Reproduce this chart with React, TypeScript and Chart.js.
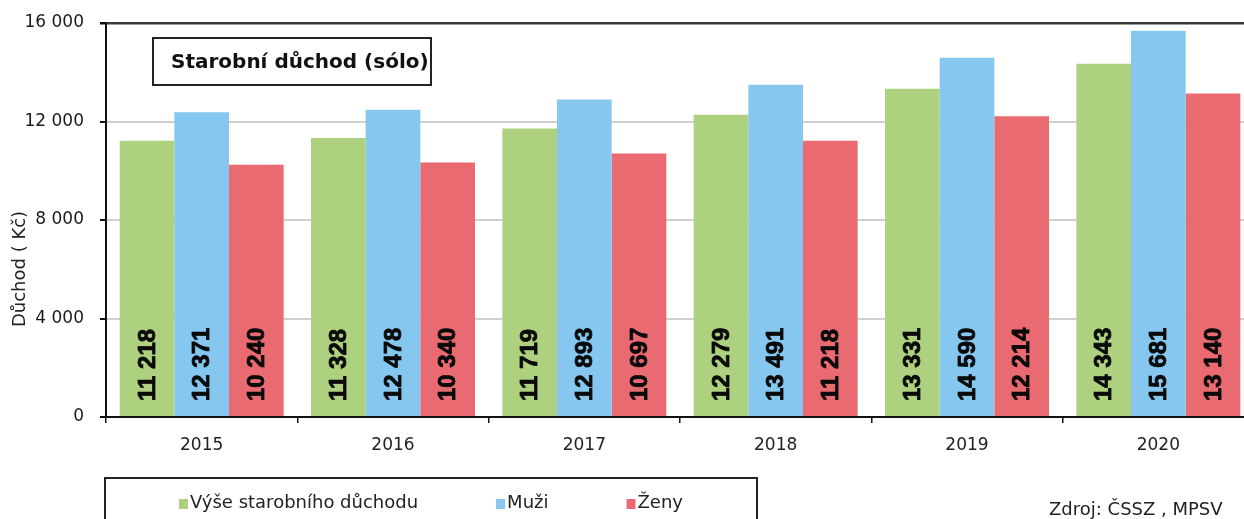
import React, { useEffect, useRef } from "react";
import { Chart, registerables } from "chart.js";

Chart.register(...registerables);

const categories = ["2015", "2016", "2017", "2018", "2019", "2020"];
const seriesNames = ["Výše starobního důchodu", "Muži", "Ženy"];
const totalValues = [11218, 11328, 11719, 12279, 13331, 14343];
const menValues = [12371, 12478, 12893, 13491, 14590, 15681];
const womenValues = [10240, 10340, 10697, 11218, 12214, 13140];
const seriesColors = ["#add17e", "#85c7ef", "#e96a70"];
const yTicks = [0, 4000, 8000, 12000, 16000];
const chartTitle = "Starobní důchod (sólo)";
const yTitle = "Důchod ( Kč)";
const sourceText = "Zdroj: ČSSZ , MPSV";

const fmt = (v: number) => {
  const s = String(Math.round(v));
  return s.replace(/\B(?=(\d{3})+(?!\d))/g, " ");
};

const FONT = "'DejaVu Sans', Verdana, sans-serif";

const overlayPlugin = {
  id: "overlay",
  afterDatasetsDraw(chart: any) {
    const ctx = chart.ctx as CanvasRenderingContext2D;
    ctx.save();
    ctx.fillStyle = "#0a0a0a";
    ctx.font = `bold 24px 'Liberation Sans', Arial, sans-serif`;
    ctx.textAlign = "left";
    ctx.textBaseline = "middle";
    ctx.strokeStyle = "#0a0a0a";
    ctx.lineWidth = 0.8;
    chart.data.datasets.forEach((ds: any, i: number) => {
      const meta = chart.getDatasetMeta(i);
      meta.data.forEach((bar: any, j: number) => {
        ctx.save();
        ctx.translate(bar.x + 1, bar.base - 15);
        ctx.rotate(-Math.PI / 2);
        ctx.fillText(fmt(ds.data[j]), 0, 0);
        ctx.strokeText(fmt(ds.data[j]), 0, 0);
        ctx.restore();
      });
    });
    ctx.restore();
  },
  afterDraw(chart: any) {
    const ctx = chart.ctx as CanvasRenderingContext2D;
    const area = chart.chartArea;
    ctx.save();
    // title box
    const bx = area.left + 47;
    const by = area.top + 15;
    const bw = 278;
    const bh = 47;
    ctx.fillStyle = "#fff";
    ctx.fillRect(bx, by, bw, bh);
    ctx.strokeStyle = "#222";
    ctx.lineWidth = 2;
    ctx.strokeRect(bx, by, bw, bh);
    ctx.fillStyle = "#111";
    ctx.font = `bold 20px ${FONT}`;
    ctx.textAlign = "left";
    ctx.textBaseline = "middle";
    ctx.fillText(chartTitle, bx + 18, by + bh / 2 + 1);

    // y axis title
    ctx.save();
    ctx.translate(20, 269);
    ctx.rotate(-Math.PI / 2);
    ctx.font = `18px ${FONT}`;
    ctx.textAlign = "center";
    ctx.textBaseline = "middle";
    ctx.fillStyle = "#222";
    ctx.fillText(yTitle, 0, 0);
    ctx.restore();

    // legend box
    const lx = area.left - 1;
    const ly = 478;
    const lw = 652;
    ctx.strokeStyle = "#222";
    ctx.lineWidth = 2;
    ctx.beginPath();
    ctx.moveTo(lx, 530);
    ctx.lineTo(lx, ly);
    ctx.lineTo(lx + lw, ly);
    ctx.lineTo(lx + lw, 530);
    ctx.stroke();
    ctx.font = `18px ${FONT}`;
    ctx.textBaseline = "middle";
    ctx.textAlign = "left";
    let x = lx + 74;
    const ty = 503;
    chart.data.datasets.forEach((ds: any) => {
      ctx.fillStyle = ds.backgroundColor;
      ctx.fillRect(x, ty - 4, 9, 10);
      ctx.fillStyle = "#222";
      ctx.fillText(ds.label, x + 11, ty);
      x += 11 + ctx.measureText(ds.label).width + 78;
    });

    // source
    ctx.font = `18px ${FONT}`;
    ctx.fillStyle = "#222";
    ctx.textAlign = "left";
    ctx.fillText(sourceText, 1049, 510);
    ctx.restore();
  },
};

export default function App() {
  const ref = useRef<HTMLCanvasElement | null>(null);
  useEffect(() => {
    if (!ref.current) return;
    const chart = new Chart(ref.current, {
      type: "bar",
      data: {
        labels: categories,
        datasets: [
          { label: seriesNames[0], data: totalValues, backgroundColor: seriesColors[0] },
          { label: seriesNames[1], data: menValues, backgroundColor: seriesColors[1] },
          { label: seriesNames[2], data: womenValues, backgroundColor: seriesColors[2] },
        ],
      },
      options: {
        responsive: false,
        animation: false,
        devicePixelRatio: 1,
        layout: { padding: { top: 23, right: 0, left: 0, bottom: 0 } },
        datasets: { bar: { categoryPercentage: 0.857, barPercentage: 1 } },
        plugins: {
          legend: { display: false },
          title: { display: false },
          tooltip: { enabled: false },
        },
        scales: {
          x: {
            grid: {
              display: true,
              drawOnChartArea: false,
              drawTicks: true,
              tickLength: 6,
              color: "#111",
              lineWidth: 1.5,
              offset: true,
            },
            border: { color: "#111", width: 2 },
            ticks: { color: "#222", font: { family: FONT, size: 17 }, padding: 12 },
            afterFit: (s: any) => {
              s.height = 102;
              s.paddingLeft = 0;
              s.paddingRight = 0;
            },
          },
          y: {
            min: 0,
            max: 16000,
            afterBuildTicks: (s: any) => {
              s.ticks = yTicks.map((v) => ({ value: v }));
            },
            grid: {
              color: (c: any) =>
                c.tick && c.tick.value === 16000 ? "#3a3a3a" : c.tick && c.tick.value === 0 ? "#111" : "#d0d0d0",
              lineWidth: (c: any) => (c.tick && c.tick.value === 16000 ? 2.5 : 2),
              tickColor: "#111",
              tickLength: 6,
              drawTicks: true,
            },
            border: { color: "#111", width: 2 },
            ticks: {
              color: "#1a1a1a",
              font: { family: FONT, size: 17 },
              padding: 16,
              callback: (v: any) => fmt(Number(v)),
            },
            afterFit: (s: any) => {
              s.width = 106;
              s.paddingTop = 0;
              s.paddingBottom = 0;
            },
          },
        },
      },
      plugins: [overlayPlugin],
    });
    return () => chart.destroy();
  }, []);
  return (
    <div style={{ position: "fixed", left: 0, top: 0, width: 1244, height: 519, overflow: "hidden", background: "#fff" }}>
      <canvas ref={ref} width={1254} height={519} style={{ display: "block" }} />
    </div>
  );
}
